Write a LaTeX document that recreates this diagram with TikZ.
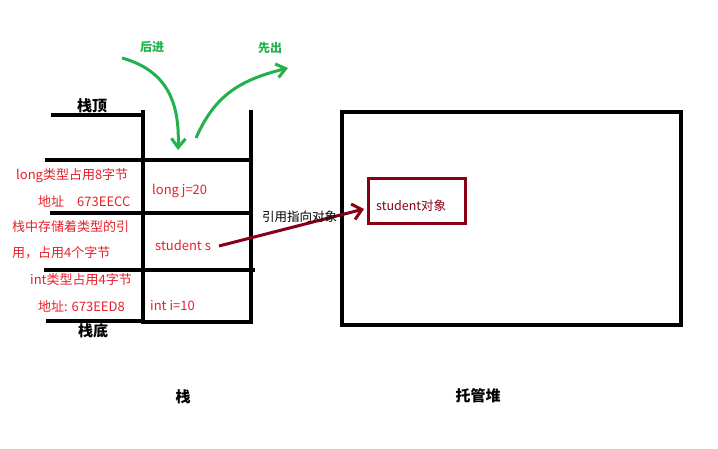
\documentclass[tikz,border=0pt]{standalone}
\usepackage{fontspec}
\setmainfont{Noto Sans CJK SC}
\usetikzlibrary{arrows.meta}
\definecolor{txtred}{HTML}{E8202A}
\definecolor{pgreen}{HTML}{22B14C}
\definecolor{dred}{HTML}{880015}
\tikzset{
  wall/.style={line width=3.5pt},
  redtxt/.style={text=txtred, font=\fontsize{13}{14}\selectfont, inner sep=0pt},
  title/.style={font=\fontsize{15}{16}\selectfont\bfseries, inner sep=0pt},
  greenarrow/.style={pgreen, line width=3pt, -{Straight Barb[length=9pt,width=14pt,line width=3pt]}},
}
\begin{document}
\begin{tikzpicture}[x=1pt,y=-1pt]
\useasboundingbox[fill=white] (0,0) rectangle (718,449);
% stack walls
\draw[wall] (143,110) -- (143,322) -- (251,322) -- (251,110);
\draw[wall] (51,115) -- (143,115);
\draw[wall] (45,160) -- (251,160);
\draw[wall] (50,213) -- (251,213);
\draw[wall] (44,270) -- (255,270);
\draw[wall] (46,321) -- (143,321);
% stack labels
\node[title, anchor=base] (top) at (92,112) {栈顶};
\node[title, anchor=base] (bottom) at (93,336) {栈底};
\node[title, anchor=base] (stack) at (183,402) {栈};
\node[title, anchor=base] (heap) at (478,401) {托管堆};
% left red notes
\node[redtxt, anchor=base west] (n1) at (16,180) {long类型占用8字节};
\node[redtxt, anchor=base west] (n2) at (38,207) {地址\quad 673EECC};
\node[redtxt, anchor=base west] (n3) at (12,232) {栈中存储着类型的引};
\node[redtxt, anchor=base west] (n4) at (12,258) {用，占用4个字节};
\node[redtxt, anchor=base west] (n5) at (30,285) {int类型占用4字节};
\node[redtxt, anchor=base west] (n6) at (38,312) {地址: 673EED8};
% cells
\node[redtxt, anchor=base west] (lj) at (152,195) {long j=20};
\node[redtxt, anchor=base west] (ss) at (155,251) {student s};
\node[redtxt, anchor=base west] (ii) at (150,310) {int i=10};
% heap
\draw[line width=4pt] (342,112) rectangle (681,325);
\node[draw=dred, line width=3pt, minimum width=97pt, minimum height=45pt, anchor=north west, inner sep=0pt] (obj) at (367,177) {};
\node[text=dred, font=\fontsize{12.5}{13}\selectfont, anchor=base west, inner sep=0pt] (objt) at (376,211) {student对象};
% reference arrow
\coordinate (rs) at (219,246);
\coordinate (re) at (364,209);
\draw[dred, line width=3pt, -{Straight Barb[length=9pt,width=16pt,line width=3pt]}] (rs) -- (re);
\node[font=\fontsize{12.5}{13}\selectfont, anchor=base west, inner sep=0pt] (ref) at (262,222) {引用指向对象};
% green arrows
\node[text=pgreen, font=\fontsize{12}{13}\selectfont\bfseries, anchor=base, inner sep=0pt] (lin) at (152,52) {后进};
\node[text=pgreen, font=\fontsize{12}{13}\selectfont\bfseries, anchor=base, inner sep=0pt] (fout) at (270,53) {先出};
\coordinate (g1s) at (122,58);
\coordinate (g1e) at (178,150);
\coordinate (g2s) at (196,138);
\coordinate (g2e) at (288,68);
\draw[greenarrow] (g1s) .. controls (165,70) and (180,100) .. (g1e);
\draw[greenarrow] (g2s) .. controls (215,95) and (240,80) .. (g2e);
\end{tikzpicture}
\end{document}
